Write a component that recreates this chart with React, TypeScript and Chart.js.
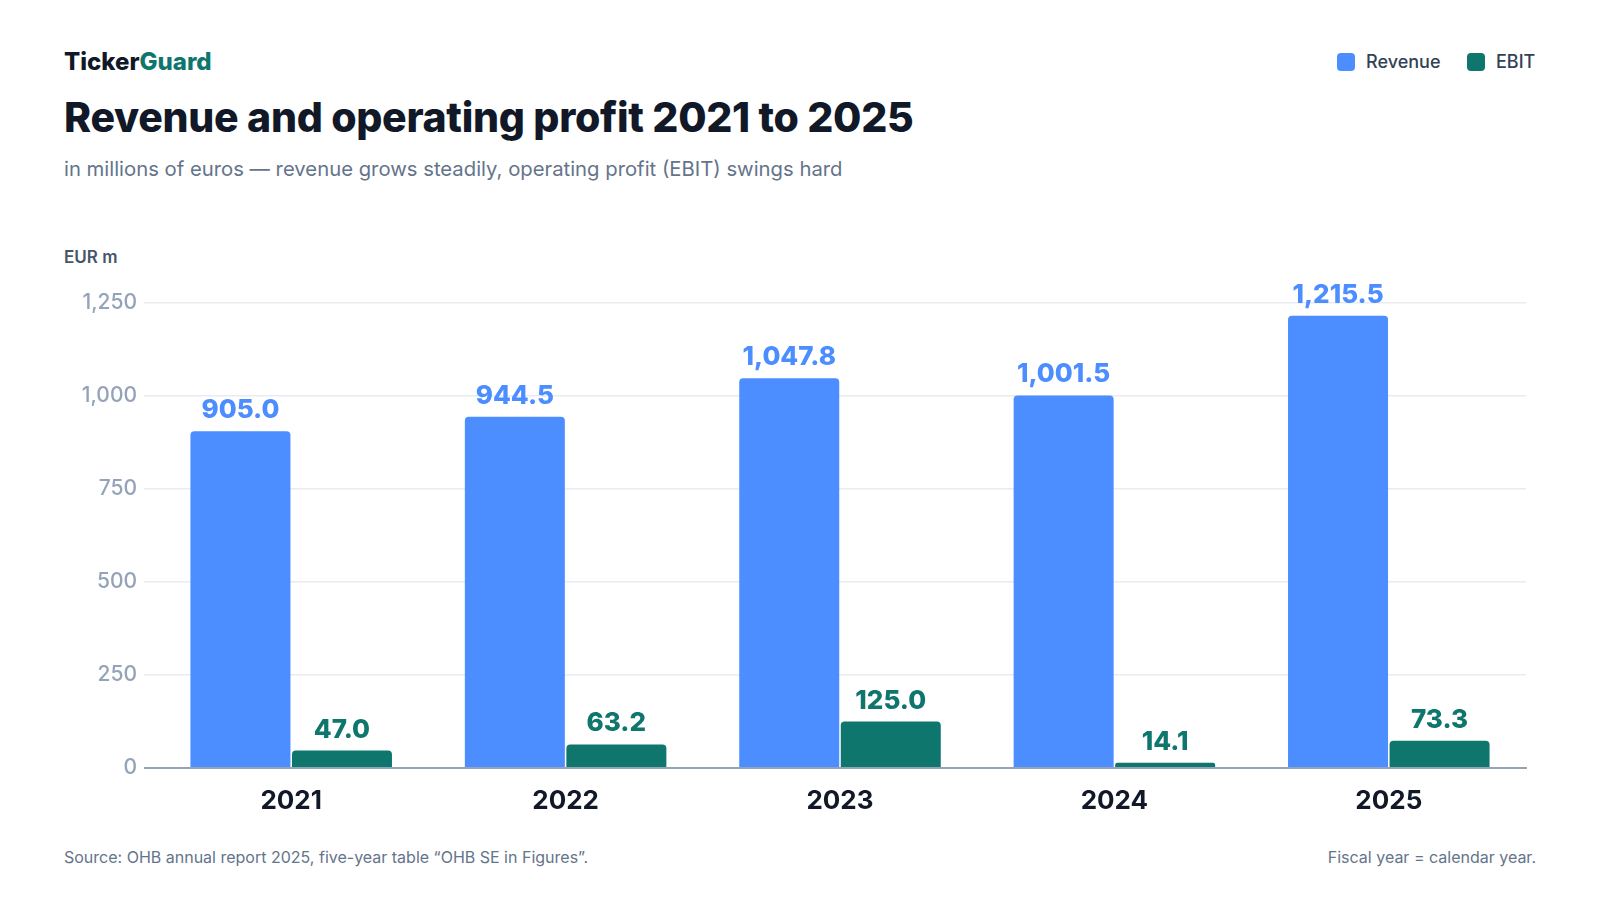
import React, { useEffect, useRef } from 'react';
import { Chart, registerables, Plugin } from 'chart.js';

Chart.register(...registerables);

// fiscal years and values in EUR m
const years: string[] = ['2021', '2022', '2023', '2024', '2025'];
const revenue: number[] = [905.0, 944.5, 1047.8, 1001.5, 1215.5];
const ebit: number[] = [47.0, 63.2, 125.0, 14.1, 73.3];
const yTicks: number[] = [0, 250, 500, 750, 1000, 1250];

const REVENUE_COLOR = '#4C8DFF';
const EBIT_COLOR = '#0F766E';
const FONT = 'Inter, "Noto Sans", sans-serif';

const fmt1 = (v: number) =>
  v.toLocaleString('en-US', { minimumFractionDigits: 1, maximumFractionDigits: 1 });

// value labels above each bar
const valueLabels: Plugin<'bar'> = {
  id: 'valueLabels',
  afterDatasetsDraw(chart) {
    const { ctx } = chart;
    ctx.save();
    ctx.textAlign = 'center';
    ctx.textBaseline = 'alphabetic';
    ctx.font = `800 26px ${FONT}`;
    chart.data.datasets.forEach((ds, i) => {
      const meta = chart.getDatasetMeta(i);
      ctx.fillStyle = ds.backgroundColor as string;
      meta.data.forEach((el, j) => {
        const v = ds.data[j] as number;
        ctx.fillText(fmt1(v), el.x, el.y - 13);
      });
    });
    ctx.restore();
  },
};

const RevenueChart: React.FC = () => {
  const canvasRef = useRef<HTMLCanvasElement>(null);

  useEffect(() => {
    if (!canvasRef.current) return;
    const chart = new Chart(canvasRef.current, {
      type: 'bar',
      data: {
        labels: years,
        datasets: [
          {
            label: 'Revenue',
            data: revenue,
            backgroundColor: REVENUE_COLOR,
            borderRadius: { topLeft: 4, topRight: 4, bottomLeft: 0, bottomRight: 0 },
            borderSkipped: false,
            categoryPercentage: 0.74,
            barPercentage: 0.985,
          },
          {
            label: 'EBIT',
            data: ebit,
            backgroundColor: EBIT_COLOR,
            borderRadius: { topLeft: 4, topRight: 4, bottomLeft: 0, bottomRight: 0 },
            borderSkipped: false,
            categoryPercentage: 0.74,
            barPercentage: 0.985,
          },
        ],
      },
      options: {
        responsive: true,
        maintainAspectRatio: false,
        animation: false,
        layout: { padding: { top: 103, right: 74, bottom: 0, left: 0 } },
        plugins: {
          legend: { display: false },
          tooltip: { enabled: false },
        },
        scales: {
          x: {
            z: 1,
            grid: { display: false },
            border: { display: true, color: '#94A3B8', width: 2 },
            ticks: {
              color: '#111827',
              padding: 10,
              font: { family: FONT, size: 26, weight: 700 },
            },
            afterFit: (axis) => {
              axis.height = 52;
            },
          },
          y: {
            min: 0,
            max: 1250,
            afterBuildTicks: (axis) => {
              axis.ticks = yTicks.map((value) => ({ value }));
            },
            border: { display: false },
            grid: {
              color: (c) => (c.tick && c.tick.value === 0 ? '#94A3B8' : '#E8EBF0'),
              lineWidth: (c) => (c.tick && c.tick.value === 0 ? 2 : 1.5),
              tickLength: 10,
              drawTicks: true,
            },
            ticks: {
              color: '#94A3B8',
              padding: 7,
              font: { family: FONT, size: 21, weight: 500 },
              callback: (v) => Number(v).toLocaleString('en-US'),
            },
            afterFit: (axis) => {
              axis.width = 154;
            },
          },
        },
      },
      plugins: [valueLabels],
    });
    return () => chart.destroy();
  }, []);

  return (
    <div style={{ position: 'absolute', left: 0, top: 200, width: 1600, height: 620 }}>
      <canvas ref={canvasRef}></canvas>
    </div>
  );
};

const LegendItem: React.FC<{ color: string; label: string; left: number }> = ({ color, label, left }) => (
  <div style={{ position: 'absolute', left, top: 53, display: 'flex', alignItems: 'center' }}>
    <div style={{ width: 18, height: 18, borderRadius: 4, backgroundColor: color }}></div>
    <span style={{ marginLeft: 11, fontSize: 18, lineHeight: '18px', fontWeight: 500, color: '#334155' }}>
      {label}
    </span>
  </div>
);

const App: React.FC = () => {
  useEffect(() => {
    document.body.style.margin = '0';
  }, []);

  return (
    <div
      style={{
        position: 'relative',
        width: 1600,
        height: 900,
        background: '#FFFFFF',
        fontFamily: FONT,
        overflow: 'hidden',
      }}
    >
      {/* Header */}
      <div style={{ position: 'absolute', left: 64, top: 50, fontSize: 24, lineHeight: 1, fontWeight: 800 }}>
        <span style={{ color: '#111827' }}>Ticker</span>
        <span style={{ color: EBIT_COLOR }}>Guard</span>
      </div>
      <div
        style={{
          position: 'absolute',
          left: 64,
          top: 97,
          fontSize: 41,
          lineHeight: 1,
          fontWeight: 800,
          letterSpacing: -0.3,
          color: '#111827',
          whiteSpace: 'nowrap',
        }}
      >
        Revenue and operating profit 2021 to 2025
      </div>
      <div style={{ position: 'absolute', left: 64, top: 159, fontSize: 20.3, lineHeight: 1, color: '#64748B', whiteSpace: 'nowrap' }}>
        in millions of euros — revenue grows steadily, operating profit (EBIT) swings hard
      </div>

      <LegendItem color={REVENUE_COLOR} label="Revenue" left={1337} />
      <LegendItem color={EBIT_COLOR} label="EBIT" left={1467} />

      <div style={{ position: 'absolute', left: 64, top: 249, fontSize: 17, lineHeight: 1, fontWeight: 600, color: '#475569' }}>
        EUR m
      </div>

      <RevenueChart />

      {/* Footer */}
      <div style={{ position: 'absolute', left: 64, top: 849, fontSize: 16, lineHeight: 1, color: '#64748B', whiteSpace: 'nowrap' }}>
        Source: OHB annual report 2025, five-year table “OHB SE in Figures”.
      </div>
      <div style={{ position: 'absolute', right: 64, top: 849, fontSize: 16, lineHeight: 1, color: '#64748B', whiteSpace: 'nowrap' }}>
        Fiscal year = calendar year.
      </div>
    </div>
  );
};

export default App;
